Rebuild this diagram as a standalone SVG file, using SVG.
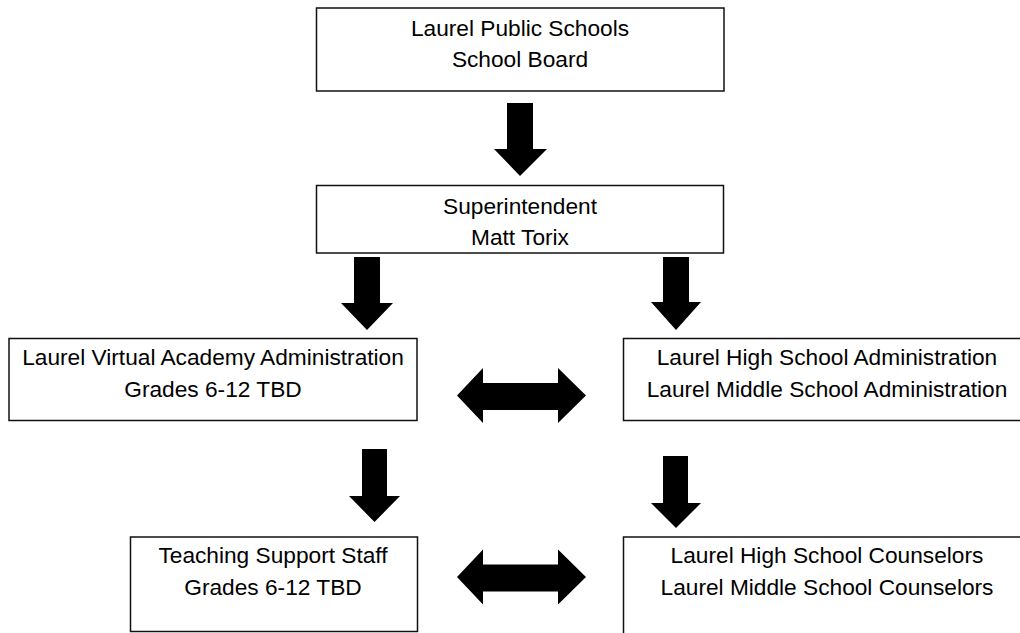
<svg xmlns="http://www.w3.org/2000/svg" width="1020" height="633" viewBox="0 0 1020 633">
<style>
.box{fill:#fff;stroke:#111;stroke-width:1.5}
.t{font-family:"Liberation Sans",Arial,sans-serif;font-size:22.7px;fill:#000;text-anchor:middle}
.arr{fill:#000}
</style>
<rect width="1020" height="633" fill="#fff"/>
<g id="board">
<rect class="box" x="316.5" y="8" width="407.5" height="83"/>
<text class="t" x="520" y="36">Laurel Public Schools</text>
<text class="t" x="520" y="67">School Board</text>
</g>
<g id="superintendent">
<rect class="box" x="316.5" y="185.5" width="407" height="67.5"/>
<text class="t" x="520" y="214">Superintendent</text>
<text class="t" x="520" y="245">Matt Torix</text>
</g>
<g id="lva">
<rect class="box" x="9" y="338.5" width="408" height="82"/>
<text class="t" x="213" y="365">Laurel Virtual Academy Administration</text>
<text class="t" x="213" y="397">Grades 6-12 TBD</text>
</g>
<g id="lhs">
<rect class="box" x="623.5" y="338.5" width="405" height="82"/>
<text class="t" x="827" y="365">Laurel High School Administration</text>
<text class="t" x="827" y="397">Laurel Middle School Administration</text>
</g>
<g id="staff">
<rect class="box" x="130.5" y="537" width="287" height="94.5"/>
<text class="t" x="273" y="563">Teaching Support Staff</text>
<text class="t" x="273" y="595">Grades 6-12 TBD</text>
</g>
<g id="counselors">
<rect class="box" x="623.5" y="537" width="405" height="110"/>
<text class="t" x="827" y="563">Laurel High School Counselors</text>
<text class="t" x="827" y="595">Laurel Middle School Counselors</text>
</g>
<g id="connectors">
<polygon class="arr" points="507,103 533,103 533,149 547,149 520,176 494,149 507,149"/>
<polygon class="arr" points="354,257 380,257 380,303 393,303 367,330 341,303 354,303"/>
<polygon class="arr" points="663,257 689,257 689,302 701,302 676,330 651,302 663,302"/>
<polygon class="arr" points="362,449 387,449 387,496 400,496 374.5,522 349,496 362,496"/>
<polygon class="arr" points="663,456 688,456 688,503 701,503 676,528 651,503 663,503"/>
<polygon class="arr" points="457,395.5 483,368 483,383 558,383 558,368 586,395.5 558,423 558,410 483,410 483,423"/>
<polygon class="arr" points="457,577 483,549.5 483,564.5 558,564.5 558,549.5 586,577 558,604.5 558,591.5 483,591.5 483,604.5"/>
</g>
</svg>
